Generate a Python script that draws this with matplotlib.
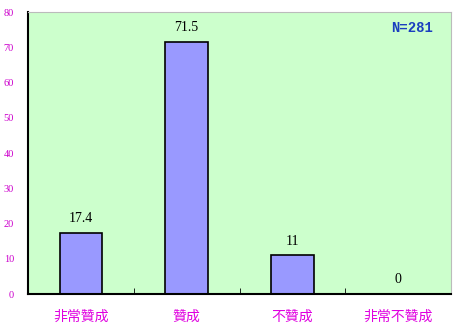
import matplotlib
matplotlib.use("Agg")
import matplotlib.pyplot as plt
import numpy as np

categories = ["非常贊成", "贊成", "不贊成", "非常不贊成"]
values = [17.4, 71.5, 11, 0]
value_labels = ["17.4", "71.5", "11", "0"]
y_ticks = [0, 10, 20, 30, 40, 50, 60, 70, 80]

fig = plt.figure(figsize=(4.58, 3.29), dpi=100)
fig.patch.set_facecolor("white")
ax = fig.add_axes([0.061, 0.106, 0.924, 0.8575])
ax.set_facecolor("#CCFFCC")

x = np.arange(len(categories))
ax.bar(x, values, width=0.4, color="#9999FF", edgecolor="black", linewidth=1.2)

for xi, v, lab in zip(x, values, value_labels):
    ax.text(xi, v + 2.2, lab, ha="center", va="bottom",
            fontsize=10, family="Liberation Serif", color="black")

ax.text(0.957, 0.945, "N=281", transform=ax.transAxes, ha="right", va="center",
        fontsize=10, family="Liberation Mono", fontweight="bold", color="#1A3FBF")

ax.set_xlim(-0.5, len(categories) - 0.5)
ax.set_ylim(0, 80)
ax.set_yticks(y_ticks)
ax.set_yticklabels([str(t) for t in y_ticks], fontsize=7.5,
                   family="Liberation Serif", color="#CC00CC")
ax.tick_params(axis="y", length=0, pad=10)

ax.set_xticks(x)
ax.set_xticklabels(categories, fontsize=10, family=["Noto Sans CJK TC", "DejaVu Sans"],
                   color="#E000E0")
ax.tick_params(axis="x", length=0, pad=11)
ax.set_xticks(np.arange(0.5, len(categories) - 0.5, 1), minor=True)
ax.tick_params(axis="x", which="minor", direction="in", length=4, color="black")

for side in ["top", "right"]:
    ax.spines[side].set_color("#BBBBBB")
for side in ["left", "bottom"]:
    ax.spines[side].set_color("black")
    ax.spines[side].set_linewidth(1.5)

fig.savefig("out.png", dpi=100)
